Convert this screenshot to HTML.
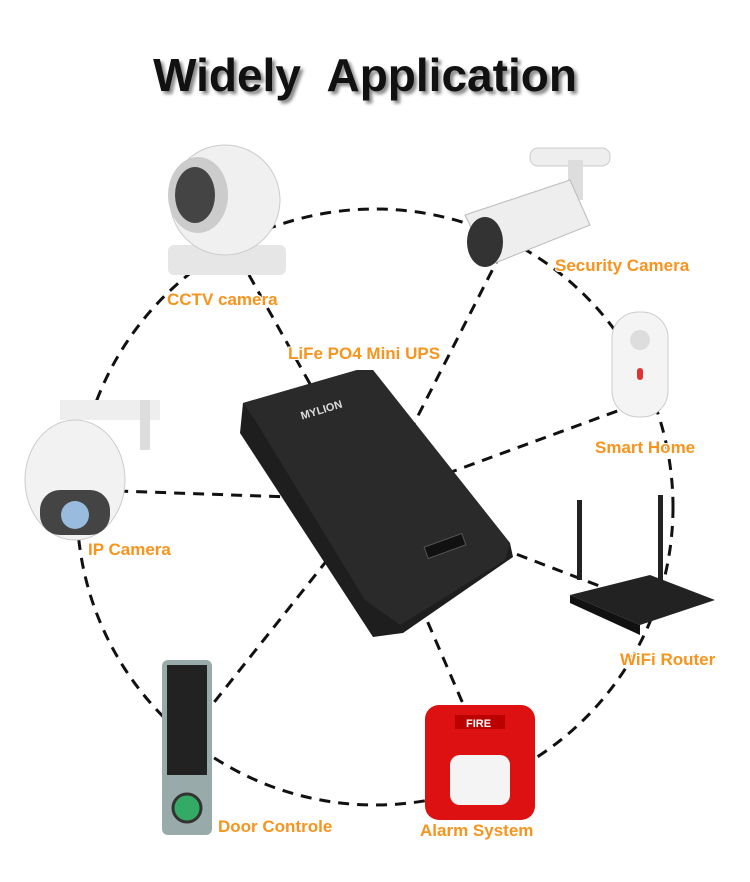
<!DOCTYPE html>
<html><head><style>
body{margin:0;width:750px;height:882px;background:#fff;overflow:hidden;font-family:"Liberation Sans",sans-serif}
.l{position:absolute;font-weight:bold;font-size:17px;color:#f7941d;text-shadow:1px 1px 0 #fff,-1px -1px 0 #fff,1px -1px 0 #fff,-1px 1px 0 #fff;white-space:nowrap}
h1{position:absolute;left:0;width:730px;top:48px;margin:0;text-align:center;font-size:46px;font-weight:bold;color:#111;text-shadow:3px 3px 3px #888}
</style></head><body>
<svg width="750" height="882" style="position:absolute;left:0;top:0">
<g stroke="#111" stroke-width="3" stroke-dasharray="11,8" fill="none">
<circle cx="375" cy="507" r="298"/>
<line x1="375" y1="500" x2="235" y2="250"/>
<line x1="375" y1="500" x2="500" y2="255"/>
<line x1="375" y1="500" x2="620" y2="410"/>
<line x1="375" y1="500" x2="90" y2="490"/>
<line x1="375" y1="500" x2="610" y2="590"/>
<line x1="375" y1="500" x2="200" y2="720"/>
<line x1="375" y1="500" x2="470" y2="720"/>
</g>
<!-- UPS -->
<polygon points="243,403 357,370 373,370 510,543 513,557 403,633 373,637 240,433" fill="#1e1e1e"/>
<polygon points="243,403 357,370 373,370 510,543 505,560 400,625 365,600 255,420" fill="#2a2a2a"/>
<text x="300" y="414" fill="#ddd" font-size="11" font-weight="bold" transform="rotate(-17 320 410)">MYLION</text>
<rect x="425" y="540" width="40" height="12" fill="#111" stroke="#555" transform="rotate(-20 445 546)"/>
<!-- CCTV -->
<rect x="168" y="245" width="118" height="30" rx="6" fill="#e6e6e6"/>
<circle cx="225" cy="200" r="55" fill="#f0f0f0" stroke="#ccc"/>
<ellipse cx="198" cy="195" rx="30" ry="38" fill="#ccc"/>
<ellipse cx="195" cy="195" rx="20" ry="28" fill="#444"/>
<!-- security camera -->
<rect x="530" y="148" width="80" height="18" rx="8" fill="#eee" stroke="#ccc"/>
<rect x="568" y="160" width="15" height="40" fill="#ddd"/>
<polygon points="465,215 570,180 590,225 490,265" fill="#eee" stroke="#bbb"/>
<ellipse cx="485" cy="242" rx="18" ry="25" fill="#333"/>
<!-- smart home -->
<rect x="612" y="312" width="56" height="105" rx="26" fill="#f4f4f4" stroke="#ccc"/>
<circle cx="640" cy="340" r="10" fill="#ddd"/>
<rect x="637" y="368" width="6" height="12" rx="3" fill="#d33"/>
<!-- IP camera -->
<rect x="60" y="400" width="100" height="20" fill="#eee"/>
<rect x="140" y="400" width="10" height="50" fill="#ddd"/>
<ellipse cx="75" cy="480" rx="50" ry="60" fill="#f2f2f2" stroke="#ccc"/>
<rect x="40" y="490" width="70" height="45" rx="20" fill="#444"/>
<circle cx="75" cy="515" r="14" fill="#9bd"/>
<!-- router -->
<rect x="577" y="500" width="5" height="80" fill="#222"/>
<rect x="658" y="495" width="5" height="85" fill="#222"/>
<polygon points="570,595 650,575 715,600 640,625" fill="#222"/>
<polygon points="570,595 640,625 640,635 570,603" fill="#111"/>
<!-- keypad -->
<rect x="162" y="660" width="50" height="175" rx="6" fill="#9aa" />
<rect x="167" y="665" width="40" height="110" fill="#222"/>
<circle cx="187" cy="808" r="14" fill="#3a6" stroke="#333" stroke-width="3"/>
<!-- alarm -->
<rect x="425" y="705" width="110" height="115" rx="14" fill="#d11"/>
<rect x="455" y="715" width="50" height="14" fill="#b00"/>
<text x="466" y="727" fill="#fff" font-size="11" font-weight="bold">FIRE</text>
<rect x="450" y="755" width="60" height="50" rx="10" fill="#f4f4f4"/>
</svg>
<h1>Widely &nbsp;Application</h1>
<div class="l" style="left:167px;top:290px">CCTV camera</div>
<div class="l" style="left:555px;top:256px">Security Camera</div>
<div class="l" style="left:288px;top:344px">LiFe PO4 Mini UPS</div>
<div class="l" style="left:595px;top:438px">Smart Home</div>
<div class="l" style="left:88px;top:540px">IP Camera</div>
<div class="l" style="left:620px;top:650px">WiFi Router</div>
<div class="l" style="left:218px;top:817px">Door Controle</div>
<div class="l" style="left:420px;top:821px">Alarm System</div>
</body></html>
